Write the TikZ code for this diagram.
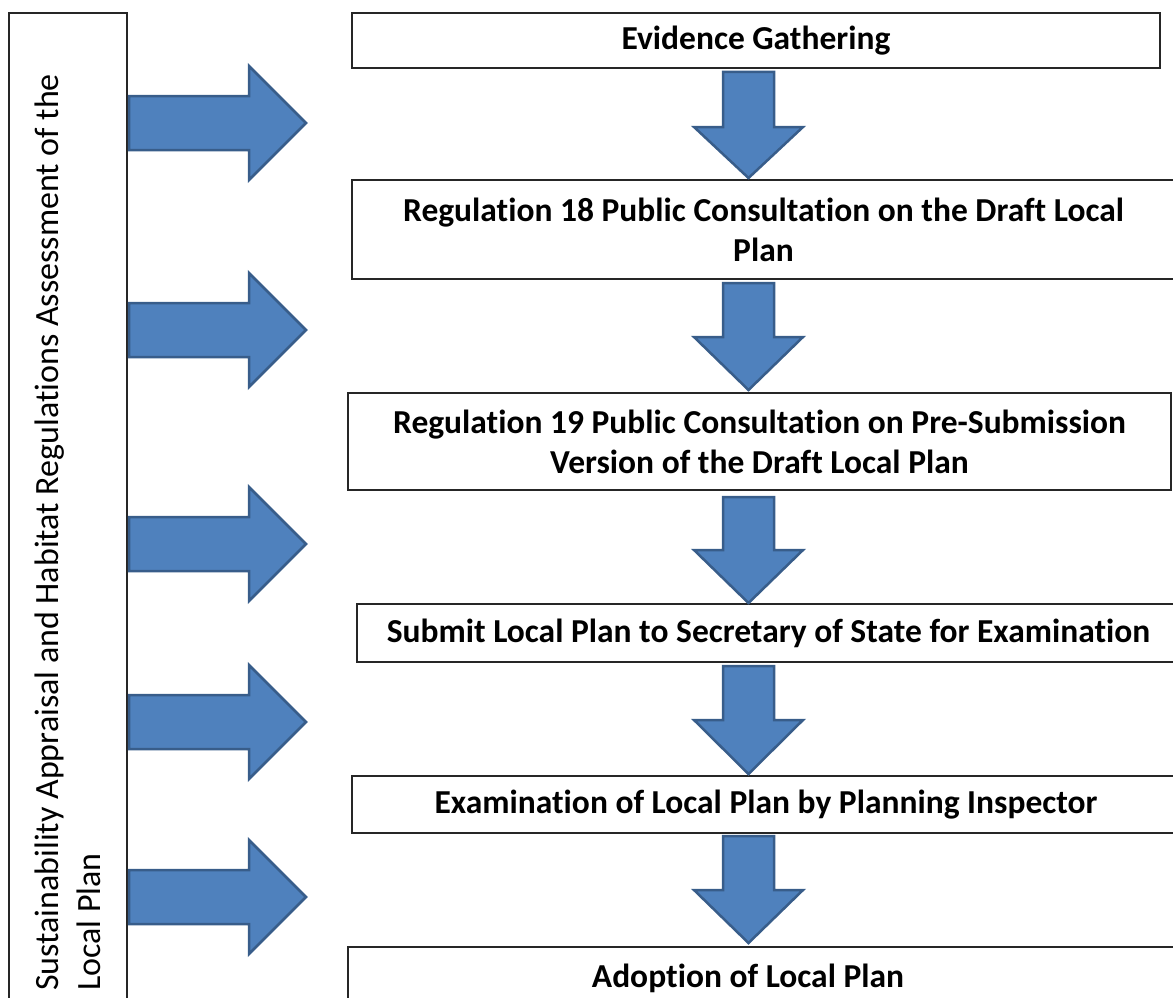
\documentclass[tikz,border=0pt]{standalone}
\usepackage{fontspec}
\setmainfont{Carlito}[Ligatures=NoCommon]
\definecolor{arrowfill}{HTML}{4F81BD}
\definecolor{arrowline}{HTML}{385D8A}
\definecolor{boxline}{HTML}{262626}
\begin{document}
\begin{tikzpicture}[x=1pt,y=-1pt,
  stage/.style={draw=boxline, line width=1.6pt, fill=white, inner sep=0pt,
    font=\bfseries\fontsize{33.5}{40}\selectfont, align=center},
  stagetext/.style={inner sep=0pt, font=\bfseries\fontsize{33.5}{40}\selectfont, align=center},
  sidebox/.style={draw=boxline, line width=1.6pt, inner sep=0pt},
  sidetext/.style={inner sep=0pt, font=\fontsize{34}{42}\selectfont, align=left, rotate=90, anchor=north west},
  blockarrow/.style={fill=arrowfill, draw=arrowline, line width=2.5pt, line join=miter}]
\useasboundingbox (0,0) rectangle (1173,998);
\clip (0,0) rectangle (1173,998);

% side box
\node[sidebox, minimum width=118pt, minimum height=1000pt] (side) at (68,513) {};
\node[sidetext] (sidelabel) at (35,991) {Sustainability Appraisal and Habitat Regulations Assessment of the\\Local Plan};

% stage boxes
\node[stage, minimum width=808pt, minimum height=55pt] (b1) at (756,40.5) {\raisebox{-2pt}{Evidence Gathering}};
\node[stage, minimum width=823pt, minimum height=99pt] (b2) at (763.5,229.5) {Regulation 18 Public Consultation on the Draft Local\\Plan};
\node[stage, minimum width=823pt, minimum height=97pt] (b3) at (759.5,441.5) {Regulation 19 Public Consultation on Pre-Submission\\Version of the Draft Local Plan};
\node[stage, minimum width=823pt, minimum height=58pt] (b4) at (768.5,633) {Submit Local Plan to Secretary of State for Examination};
\node[stage, minimum width=828pt, minimum height=57pt] (b5) at (766,804.5) {Examination of Local Plan by Planning Inspector};
\node[stage, minimum width=832pt, minimum height=63pt] (b6) at (764,978.5) {};
\node[stagetext] (b6t) at (748,978) {Adoption of Local Plan};

% right block arrows
\foreach \c in {123,330,544,722,897} {
  \draw[blockarrow] (129,\c-27) -- (249,\c-27) -- (249,\c-57) -- (306,\c)
    -- (249,\c+57) -- (249,\c+27) -- (129,\c+27) -- cycle;
}

% down block arrows
\foreach \t/\h/\b in {72/127/178, 283/337/390, 497/550/603, 666/720/774, 836/890/943} {
  \draw[blockarrow] (723,\t) -- (774,\t) -- (774,\h) -- (803,\h) -- (748.5,\b)
    -- (694,\h) -- (723,\h) -- cycle;
}
\end{tikzpicture}
\end{document}
